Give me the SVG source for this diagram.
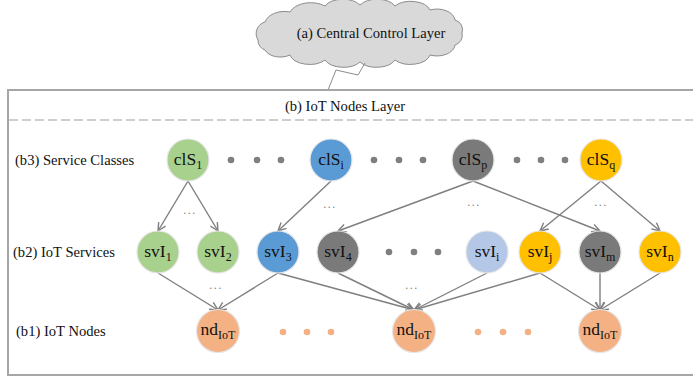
<svg xmlns="http://www.w3.org/2000/svg" width="693" height="378" viewBox="0 0 693 378">
<defs>
<style>
text{font-family:"Liberation Serif","Times New Roman",serif;fill:#111}
.lbl{font-size:14.6px}
.nt{font-size:17.5px;text-anchor:middle}
.sub{font-size:12px}
.e{stroke:#7f7f7f;stroke-width:1.4;fill:none;marker-end:url(#ah)}
.ell{font-size:12px;fill:#7f7f7f;text-anchor:middle;letter-spacing:1.5px}
.n{stroke:#e6e6e6;stroke-width:1.2}
.g{fill:#A9D18E}.b{fill:#5B9BD5}.d{fill:#7a7a7a}.y{fill:#FFC000}.lb{fill:#B4C7E7}.o{fill:#F4B183}
.dot{fill:#7f7f7f}.odot{fill:#F4B183}
</style>
<marker id="ah" markerWidth="12" markerHeight="12" refX="9" refY="5" orient="auto" markerUnits="userSpaceOnUse">
<path d="M1,1 L9,5 L1,9" fill="none" stroke="#7f7f7f" stroke-width="1.4"/>
</marker>
</defs>
<rect width="693" height="378" fill="#fff"/>

<g id="central-layer">
<path d="M258,40 A12,12 0 0 1 265,22 A20,14 0 0 1 290,12 A22,14 0 0 1 325,6 A20,12 0 0 1 360,5 A20,12 0 0 1 395,6 A20,12 0 0 1 430,10 A18,12 0 0 1 455,20 A10,10 0 0 1 462,33 A10,10 0 0 1 455,45 A18,12 0 0 1 430,55 A20,12 0 0 1 395,60 A20,12 0 0 1 360,62 A20,12 0 0 1 325,60 A20,12 0 0 1 290,55 A16,10 0 0 1 265,50 A10,10 0 0 1 258,40 Z" fill="#D9D9D9" stroke="#8c8c8c" stroke-width="1"/>
<text class="lbl" x="371" y="38" text-anchor="middle">(a) Central Control Layer</text>
<path d="M365,63 L358,75 L336,70 L328,90" fill="none" stroke="#8c8c8c" stroke-width="1"/>
</g>

<g id="iot-layer">
<rect x="8" y="90" width="700" height="285" fill="none" stroke="#a6a6a6" stroke-width="2"/>
<text class="lbl" x="345" y="111" text-anchor="middle">(b) IoT Nodes Layer</text>
<line x1="9" y1="120" x2="693" y2="120" stroke="#bfbfbf" stroke-width="1.5" stroke-dasharray="9 4"/>
<text class="lbl" x="15" y="165">(b3) Service Classes</text>
<text class="lbl" x="13" y="257">(b2) IoT Services</text>
<text class="lbl" x="16" y="336">(b1) IoT Nodes</text>
</g>

<g id="connectors">
<line class="e" x1="188" y1="181" x2="158" y2="231"/>
<line class="e" x1="188" y1="181" x2="218" y2="231"/>
<line class="e" x1="331" y1="181" x2="278" y2="231"/>
<line class="e" x1="473" y1="181" x2="338" y2="231"/>
<line class="e" x1="473" y1="181" x2="600" y2="231"/>
<line class="e" x1="601" y1="181" x2="540" y2="231"/>
<line class="e" x1="601" y1="181" x2="660" y2="231"/>
<line class="e" x1="158" y1="273" x2="218" y2="310"/>
<line class="e" x1="278" y1="273" x2="218" y2="310"/>
<line class="e" x1="278" y1="273" x2="414" y2="310"/>
<line class="e" x1="338" y1="273" x2="414" y2="310"/>
<line class="e" x1="487" y1="273" x2="414" y2="310"/>
<line class="e" x1="540" y1="273" x2="414" y2="310"/>
<line class="e" x1="540" y1="273" x2="600" y2="310"/>
<line class="e" x1="600" y1="273" x2="600" y2="310"/>
<line class="e" x1="660" y1="273" x2="600" y2="310"/>
<text class="ell" x="190" y="214">...</text>
<text class="ell" x="330" y="208">...</text>
<text class="ell" x="474" y="206">...</text>
<text class="ell" x="601" y="206">...</text>
<text class="ell" x="216" y="289">...</text>
<text class="ell" x="412" y="289">...</text>
</g>

<g id="dots">
<circle class="dot" cx="231" cy="160" r="3.3"/><circle class="dot" cx="257" cy="160" r="3.3"/><circle class="dot" cx="281" cy="160" r="3.3"/>
<circle class="dot" cx="374" cy="160" r="3.3"/><circle class="dot" cx="399" cy="160" r="3.3"/><circle class="dot" cx="423" cy="160" r="3.3"/>
<circle class="dot" cx="517" cy="160" r="3.3"/><circle class="dot" cx="541" cy="160" r="3.3"/><circle class="dot" cx="565" cy="160" r="3.3"/>
<circle class="dot" cx="389" cy="252" r="3.3"/><circle class="dot" cx="414" cy="252" r="3.3"/><circle class="dot" cx="438" cy="252" r="3.3"/>
<circle class="odot" cx="283" cy="332" r="3.3"/><circle class="odot" cx="307" cy="332" r="3.3"/><circle class="odot" cx="331" cy="332" r="3.3"/>
<circle class="odot" cx="478" cy="332" r="3.3"/><circle class="odot" cx="503" cy="332" r="3.3"/><circle class="odot" cx="528" cy="332" r="3.3"/>
</g>

<g id="clS1"><circle class="n g" cx="188" cy="160" r="21"/><text class="nt" x="188" y="165">clS<tspan class="sub" dy="4">1</tspan></text></g>
<g id="clSi"><circle class="n b" cx="331" cy="160" r="21"/><text class="nt" x="331" y="165">clS<tspan class="sub" dy="4">i</tspan></text></g>
<g id="clSp"><circle class="n d" cx="473" cy="160" r="21"/><text class="nt" x="473" y="165">clS<tspan class="sub" dy="4">p</tspan></text></g>
<g id="clSq"><circle class="n y" cx="601" cy="160" r="21"/><text class="nt" x="601" y="165">clS<tspan class="sub" dy="4">q</tspan></text></g>

<g id="svI1"><circle class="n g" cx="158" cy="252" r="21"/><text class="nt" x="158" y="257">svI<tspan class="sub" dy="4">1</tspan></text></g>
<g id="svI2"><circle class="n g" cx="218" cy="252" r="21"/><text class="nt" x="218" y="257">svI<tspan class="sub" dy="4">2</tspan></text></g>
<g id="svI3"><circle class="n b" cx="278" cy="252" r="21"/><text class="nt" x="278" y="257">svI<tspan class="sub" dy="4">3</tspan></text></g>
<g id="svI4"><circle class="n d" cx="338" cy="252" r="21"/><text class="nt" x="338" y="257">svI<tspan class="sub" dy="4">4</tspan></text></g>
<g id="svIi"><circle class="n lb" cx="487" cy="252" r="21"/><text class="nt" x="487" y="257">svI<tspan class="sub" dy="4">i</tspan></text></g>
<g id="svIj"><circle class="n y" cx="540" cy="252" r="21"/><text class="nt" x="540" y="257">svI<tspan class="sub" dy="4">j</tspan></text></g>
<g id="svIm"><circle class="n d" cx="600" cy="252" r="21"/><text class="nt" x="600" y="257">svI<tspan class="sub" dy="4">m</tspan></text></g>
<g id="svIn"><circle class="n y" cx="660" cy="252" r="21"/><text class="nt" x="660" y="257">svI<tspan class="sub" dy="4">n</tspan></text></g>

<g id="nd1"><circle class="n o" cx="218" cy="331" r="21.5"/><text class="nt" x="218" y="335">nd<tspan class="sub" dy="4">IoT</tspan></text></g>
<g id="nd2"><circle class="n o" cx="414" cy="331" r="21.5"/><text class="nt" x="414" y="335">nd<tspan class="sub" dy="4">IoT</tspan></text></g>
<g id="nd3"><circle class="n o" cx="600" cy="331" r="21.5"/><text class="nt" x="600" y="335">nd<tspan class="sub" dy="4">IoT</tspan></text></g>
</svg>
